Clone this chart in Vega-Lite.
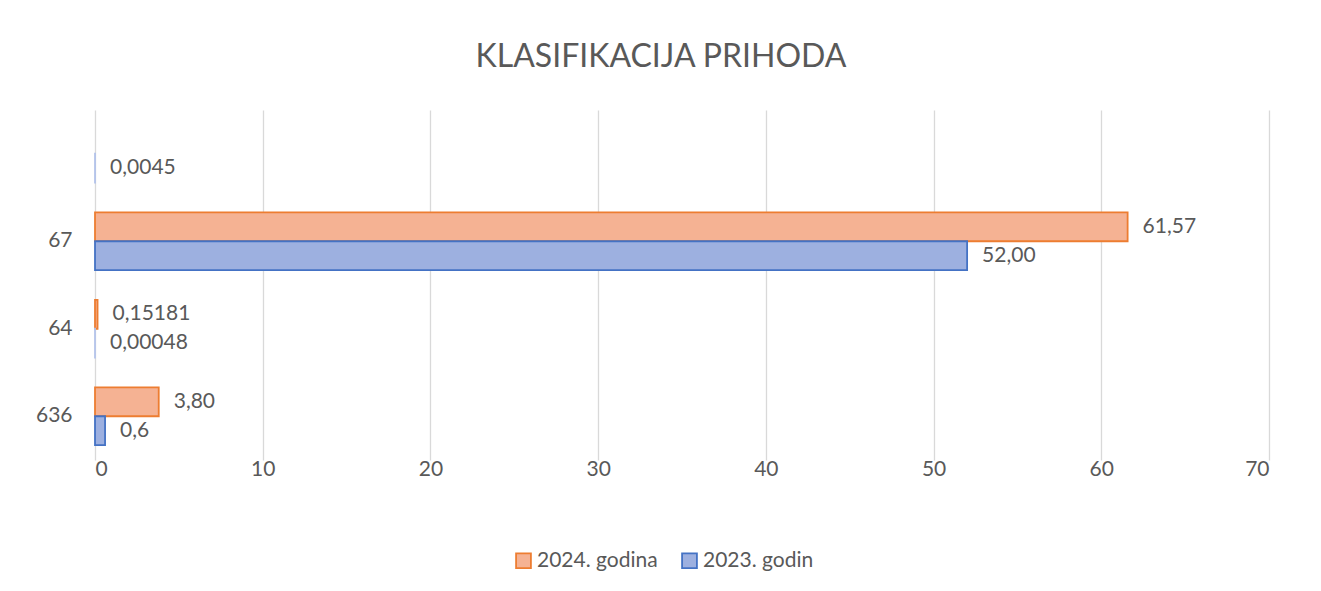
{
  "$schema": "https://vega.github.io/schema/vega-lite/v6.json",
  "autosize": "none",
  "width": 1174,
  "height": 350,
  "padding": {"left": 95, "top": 110, "right": 52, "bottom": 131},
  "background": "white",
  "title": {
    "text": "KLASIFIKACIJA PRIHODA",
    "font": "Lato",
    "fontSize": 32,
    "fontWeight": "normal",
    "color": "#595959",
    "anchor": "middle",
    "dx": -21,
    "offset": 36
  },
  "data": {
    "values": [
      {"konto": "", "serija": "2023. godin", "vrijednost": 0.0045, "oznaka": "0,0045"},
      {"konto": "67", "serija": "2024. godina", "vrijednost": 61.57, "oznaka": "61,57"},
      {"konto": "67", "serija": "2023. godin", "vrijednost": 52.0, "oznaka": "52,00"},
      {"konto": "64", "serija": "2024. godina", "vrijednost": 0.15181, "oznaka": "0,15181"},
      {"konto": "64", "serija": "2023. godin", "vrijednost": 0.00048, "oznaka": "0,00048"},
      {"konto": "636", "serija": "2024. godina", "vrijednost": 3.8, "oznaka": "3,80"},
      {"konto": "636", "serija": "2023. godin", "vrijednost": 0.6, "oznaka": "0,6"}
    ]
  },
  "encoding": {
    "y": {
      "field": "konto",
      "type": "nominal",
      "sort": ["", "67", "64", "636"],
      "scale": {"paddingInner": 0.34, "paddingOuter": 0.17},
      "axis": {
        "title": null,
        "ticks": false,
        "domain": false,
        "labelPadding": 23,
        "labelFont": "Lato",
        "labelFontSize": 21,
        "labelColor": "#595959"
      }
    },
    "yOffset": {
      "field": "serija",
      "type": "nominal",
      "sort": ["2024. godina", "2023. godin"],
      "scale": {"paddingInner": 0, "paddingOuter": 0}
    },
    "x": {
      "field": "vrijednost",
      "type": "quantitative",
      "scale": {"domain": [0, 70], "nice": false},
      "axis": {
        "title": null,
        "values": [0, 10, 20, 30, 40, 50, 60, 70],
        "ticks": false,
        "tickSize": 0,
        "domain": false,
        "grid": true,
        "gridColor": "#d9d9d9",
        "gridWidth": 1.3,
        "labelPadding": -2,
        "labelFont": "Lato",
        "labelFontSize": 21,
        "labelColor": "#595959"
      }
    }
  },
  "layer": [
    {
      "mark": {"type": "bar", "strokeWidth": 1.8},
      "encoding": {
        "fill": {
          "field": "serija",
          "type": "nominal",
          "sort": ["2024. godina", "2023. godin"],
          "scale": {"domain": ["2024. godina", "2023. godin"], "range": ["#F5B293", "#9DB0E0"]},
          "legend": {
            "title": null,
            "orient": "none",
            "legendX": 418,
            "legendY": 440,
            "direction": "horizontal",
            "symbolType": "square",
            "symbolSize": 220,
            "symbolStrokeWidth": 1.8,
            "labelFont": "Lato",
            "labelFontSize": 21,
            "labelColor": "#595959",
            "columnPadding": 20,
            "labelOffset": 3
          }
        },
        "stroke": {
          "field": "serija",
          "type": "nominal",
          "sort": ["2024. godina", "2023. godin"],
          "scale": {"domain": ["2024. godina", "2023. godin"], "range": ["#ED7D31", "#4472C4"]},
          "condition": {"test": "datum.vrijednost < 0.01", "value": "#b4c4ea"},
          "legend": {
            "title": null,
            "orient": "none",
            "legendX": 418,
            "legendY": 440,
            "direction": "horizontal",
            "symbolType": "square",
            "symbolSize": 220,
            "symbolStrokeWidth": 1.8,
            "labelFont": "Lato",
            "labelFontSize": 21,
            "labelColor": "#595959",
            "columnPadding": 20,
            "labelOffset": 3
          }
        }
      }
    },
    {
      "mark": {
        "type": "text",
        "align": "left",
        "baseline": "middle",
        "dx": 15,
        "font": "Lato",
        "fontSize": 21,
        "color": "#595959"
      },
      "encoding": {
        "text": {"field": "oznaka", "type": "nominal"}
      }
    }
  ],
  "config": {
    "view": {"stroke": null}
  }
}
